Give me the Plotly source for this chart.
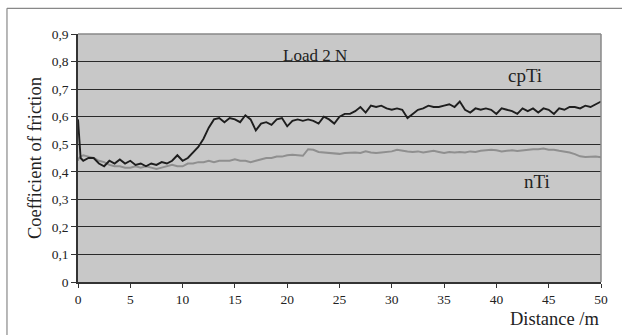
import plotly.graph_objects as go

distance = [0, 0.1, 0.25, 0.5, 1.0, 1.5, 2.0, 2.5, 3.0, 3.5, 4.0, 4.5, 5.0, 5.5, 6.0, 6.5, 7.0, 7.5, 8.0, 8.5,
            9.0, 9.5, 10.0, 10.5, 11.0, 11.5, 12.0, 12.5, 13.0, 13.5, 14.0, 14.5, 15.0, 15.5, 16.0, 16.5,
            17.0, 17.5, 18.0, 18.5, 19.0, 19.5, 20.0, 20.5, 21.0, 21.5, 22.0, 22.5, 23.0, 23.5, 24.0, 24.5,
            25.0, 25.5, 26.0, 26.5, 27.0, 27.5, 28.0, 28.5, 29.0, 29.5, 30.0, 30.5, 31.0, 31.5, 32.0, 32.5,
            33.0, 33.5, 34.0, 34.5, 35.0, 35.5, 36.0, 36.5, 37.0, 37.5, 38.0, 38.5, 39.0, 39.5, 40.0, 40.5,
            41.0, 41.5, 42.0, 42.5, 43.0, 43.5, 44.0, 44.5, 45.0, 45.5, 46.0, 46.5, 47.0, 47.5, 48.0, 48.5,
            49.0, 49.5, 50.0]

cpTi = [0.59, 0.52, 0.45, 0.44, 0.45, 0.45, 0.43, 0.42, 0.44, 0.43, 0.445, 0.43, 0.44, 0.425, 0.43, 0.42,
        0.43, 0.425, 0.435, 0.43, 0.44, 0.46, 0.44, 0.45, 0.47, 0.49, 0.52, 0.56, 0.59, 0.595, 0.58, 0.595,
        0.59, 0.58, 0.605, 0.59, 0.55, 0.575, 0.58, 0.57, 0.59, 0.595, 0.565, 0.585, 0.59, 0.585, 0.59, 0.585,
        0.575, 0.6, 0.59, 0.575, 0.6, 0.61, 0.61, 0.62, 0.635, 0.615, 0.64, 0.635, 0.64, 0.63, 0.625, 0.63,
        0.625, 0.595, 0.61, 0.625, 0.63, 0.64, 0.635, 0.635, 0.64, 0.645, 0.635, 0.655, 0.625, 0.615, 0.63,
        0.625, 0.63, 0.625, 0.61, 0.63, 0.625, 0.62, 0.61, 0.63, 0.62, 0.63, 0.615, 0.63, 0.625, 0.61, 0.63,
        0.625, 0.635, 0.635, 0.63, 0.64, 0.635, 0.645, 0.655]

nTi = [0.44, 0.45, 0.455, 0.46, 0.455, 0.45, 0.44, 0.435, 0.425, 0.42, 0.42, 0.415, 0.415, 0.42, 0.415, 0.42,
       0.415, 0.41, 0.415, 0.42, 0.425, 0.42, 0.42, 0.43, 0.43, 0.435, 0.435, 0.44, 0.435, 0.44, 0.44, 0.44,
       0.445, 0.44, 0.44, 0.435, 0.44, 0.445, 0.45, 0.45, 0.455, 0.455, 0.46, 0.462, 0.46, 0.458, 0.482, 0.48,
       0.472, 0.47, 0.468, 0.466, 0.465, 0.468, 0.47, 0.47, 0.468, 0.474, 0.47, 0.468, 0.47, 0.472, 0.474,
       0.48, 0.476, 0.474, 0.472, 0.474, 0.47, 0.474, 0.476, 0.472, 0.468, 0.472, 0.47, 0.472, 0.47, 0.474,
       0.472, 0.476, 0.478, 0.48, 0.478, 0.474, 0.476, 0.478, 0.475, 0.478, 0.48, 0.482, 0.482, 0.484, 0.48,
       0.48, 0.476, 0.474, 0.47, 0.464, 0.456, 0.454, 0.455, 0.455, 0.453]

y_tickvals = [0, 0.1, 0.2, 0.3, 0.4, 0.5, 0.6, 0.7, 0.8, 0.9]
y_ticktext = ["0", "0,1", "0,2", "0,3", "0,4", "0,5", "0,6", "0,7", "0,8", "0,9"]
x_tickvals = [0, 5, 10, 15, 20, 25, 30, 35, 40, 45, 50]

FONT = "Liberation Serif"
TXT = "#222222"

fig = go.Figure()
fig.add_trace(go.Scatter(x=distance, y=nTi, mode="lines", name="nTi",
                         line=dict(color="#8f8f8f", width=2)))
fig.add_trace(go.Scatter(x=distance, y=cpTi, mode="lines", name="cpTi",
                         line=dict(color="#1e1e1e", width=1.9)))

fig.update_layout(
    width=622, height=335,
    margin=dict(l=78, r=21, t=34, b=53),
    paper_bgcolor="white",
    plot_bgcolor="#c8c8c8",
    showlegend=False,
    font=dict(family=FONT, color=TXT, size=13),
    xaxis=dict(range=[0, 50], tickvals=x_tickvals, ticks="outside", ticklen=4,
               tickcolor="#333333", showgrid=False, zeroline=False,
               showline=True, linecolor="#333333", linewidth=1.5,
               tickfont=dict(family=FONT, size=13.5, color=TXT)),
    yaxis=dict(range=[0, 0.9], tickvals=y_tickvals, ticktext=y_ticktext, ticks="outside",
               ticklen=5, tickcolor="#333333", showgrid=True, gridcolor="#2a2a2a", gridwidth=1,
               zeroline=False, showline=True, linecolor="#333333", linewidth=1.5,
               tickfont=dict(family=FONT, size=13.5, color=TXT)),
    shapes=[
        dict(type="line", xref="paper", yref="paper", x0=-0.1358, y0=1.1036, x1=1.06, y1=1.1036,
             line=dict(color="#888888", width=1.2), layer="below"),
        dict(type="line", xref="paper", yref="paper", x0=-0.1358, y0=-0.3, x1=-0.1358, y1=1.1036,
             line=dict(color="#888888", width=1.2), layer="below"),
        dict(type="line", xref="paper", yref="paper", x0=0, y0=1, x1=1, y1=1,
             line=dict(color="#888888", width=1.5)),
        dict(type="line", xref="paper", yref="paper", x0=1, y0=0, x1=1, y1=1,
             line=dict(color="#888888", width=1.5)),
    ],
    annotations=[
        dict(text="Load 2 N", x=22.7, y=0.823, xref="x", yref="y", showarrow=False,
             font=dict(family=FONT, size=17, color=TXT)),
        dict(text="cpTi", x=42.7, y=0.75, xref="x", yref="y", showarrow=False,
             font=dict(family=FONT, size=19, color=TXT)),
        dict(text="nTi", x=43.9, y=0.365, xref="x", yref="y", showarrow=False,
             font=dict(family=FONT, size=19, color=TXT)),
        dict(text="Coefficient of friction", x=-0.082, y=0.5, xref="paper", yref="paper",
             textangle=-90, showarrow=False, xanchor="center", yanchor="middle",
             font=dict(family=FONT, size=18.5, color=TXT)),
        dict(text="Distance /m", x=1.0, y=-0.10, xref="paper", yref="paper",
             showarrow=False, xanchor="right", yanchor="top",
             font=dict(family=FONT, size=18.5, color=TXT)),
    ],
)

fig.write_html("out.html", config={"displayModeBar": False},
               post_script="document.body.style.margin='0';document.body.style.overflow='hidden';")
